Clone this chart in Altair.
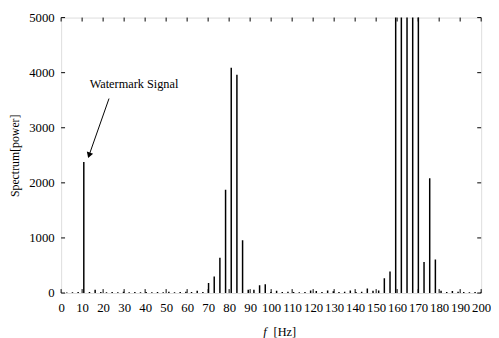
import altair as alt
import pandas as pd

# Frequency bins (Hz) and spectrum power
freq = [2.7, 5.4, 8.1, 10.8, 13.5, 16.2, 18.9, 21.6, 24.3, 27.0,
        29.7, 32.4, 35.1, 37.8, 40.5, 43.2, 45.9, 48.6, 51.3, 54.0,
        56.7, 59.4, 62.1, 64.8, 67.5, 70.2, 72.9, 75.6, 78.3, 81.0,
        83.7, 86.4, 89.1, 91.8, 94.5, 97.2, 99.9, 102.6, 105.3, 108.0,
        110.7, 113.4, 116.1, 118.8, 121.5, 124.2, 126.9, 129.6, 132.3, 135.0,
        137.7, 140.4, 143.1, 145.8, 148.5, 151.2, 153.9, 156.6, 159.3, 162.0,
        164.7, 167.4, 170.1, 172.8, 175.5, 178.2, 180.9, 183.6, 186.3, 189.0,
        191.7, 194.4, 197.1, 199.8]
power = [10, 15, 20, 2380, 20, 60, 20, 15, 20, 15,
         25, 15, 20, 15, 20, 15, 20, 15, 25, 15,
         20, 25, 20, 40, 20, 180, 300, 640, 1875, 4090,
         3960, 960, 60, 60, 140, 160, 20, 40, 20, 25,
         20, 15, 20, 45, 35, 20, 45, 30, 20, 25,
         45, 20, 25, 80, 40, 45, 270, 390, 9000, 9000,
         9000, 9000, 9000, 565, 2085, 607, 40, 20, 35, 25,
         20, 15, 20, 10]

x_ticks = list(range(0, 201, 10))
y_ticks = [0, 1000, 2000, 3000, 4000, 5000]

annot_text = ["Watermark Signal"]
annot_x = [34.7]
annot_y = [3790]
arrow_x = [22.8]
arrow_y = [3530]
arrow_x2 = [13.3]
arrow_y2 = [2500]

W, H = 427, 280
FONT = "Liberation Serif"

df = pd.DataFrame({"freq": freq, "power": power})
tx = pd.DataFrame({"t": x_ticks})
ty = pd.DataFrame({"t": y_ticks})
ann = pd.DataFrame({"text": annot_text, "x": annot_x, "y": annot_y})
arr = pd.DataFrame({"x": arrow_x, "y": arrow_y, "x2": arrow_x2, "y2": arrow_y2})

xs = alt.Scale(domain=[0, 200], nice=False, zero=False)
ys = alt.Scale(domain=[0, 5000], nice=False)

x_axis = alt.Axis(values=x_ticks, ticks=False, domain=False, grid=False,
                  labelFont=FONT, labelFontSize=13, labelColor="black",
                  labelPadding=9, title=None, labelFlush=False,
                  labelOverlap=False, format="d")
y_axis = alt.Axis(values=y_ticks, ticks=False, domain=False, grid=False,
                  labelFont=FONT, labelFontSize=13, labelColor="black",
                  labelPadding=7, title="Spectrum[power]", titleFont=FONT,
                  titleFontSize=12, titleFontWeight="normal", titleColor="black",
                  titlePadding=7, format="d", labelOverlap=False)


def X(f):
    return alt.X(f, scale=xs, axis=x_axis)


def Y(f):
    return alt.Y(f, scale=ys, axis=y_axis)


bars = alt.Chart(df).mark_rule(color="black", strokeWidth=1.5, clip=True).encode(
    x=X("freq:Q"), y=Y("power:Q"), y2=alt.datum(0),
)

bt = alt.Chart(tx).mark_rule(color="black", strokeWidth=1).encode(
    x=X("t:Q"), y=alt.value(H), y2=alt.value(H - 4))
tt = alt.Chart(tx).mark_rule(color="black", strokeWidth=1).encode(
    x=X("t:Q"), y=alt.value(0), y2=alt.value(4))
lt = alt.Chart(ty).mark_rule(color="black", strokeWidth=1).encode(
    y=Y("t:Q"), x=alt.value(0), x2=alt.value(4))
rt = alt.Chart(ty).mark_rule(color="black", strokeWidth=1).encode(
    y=Y("t:Q"), x=alt.value(W), x2=alt.value(W - 4))

label = alt.Chart(ann).mark_text(font=FONT, fontSize=12.5, color="black").encode(
    x=X("x:Q"), y=Y("y:Q"), text="text:N")

arrow_line = alt.Chart(arr).mark_rule(color="black", strokeWidth=1).encode(
    x=X("x:Q"), y=Y("y:Q"), x2="x2:Q", y2="y2:Q")
arrow_head = alt.Chart(arr).mark_point(shape="triangle-down", filled=True,
                                       color="black", size=45, angle=19,
                                       opacity=1).encode(
    x=X("x2:Q"), y=Y("y2:Q"))

xt_f = alt.Chart(ann).mark_text(font=FONT, fontSize=12.5, fontStyle="italic",
                                color="black", align="right").encode(
    x=alt.value(209), y=alt.value(H + 40), text=alt.value("f"))
xt_hz = alt.Chart(ann).mark_text(font=FONT, fontSize=12.5, color="black",
                                 align="left").encode(
    x=alt.value(216), y=alt.value(H + 40), text=alt.value("[Hz]"))

chart = alt.layer(bars, bt, tt, lt, rt, label, arrow_line, arrow_head, xt_f, xt_hz).properties(
    width=W, height=H,
    autosize=alt.AutoSizeParams(type="none"),
    padding={"left": 54, "top": 7, "right": 10, "bottom": 44},
).configure_view(stroke="black", strokeWidth=1).configure(background="white", font=FONT)

chart.save("out.html", embed_options={"renderer": "svg", "actions": False})
